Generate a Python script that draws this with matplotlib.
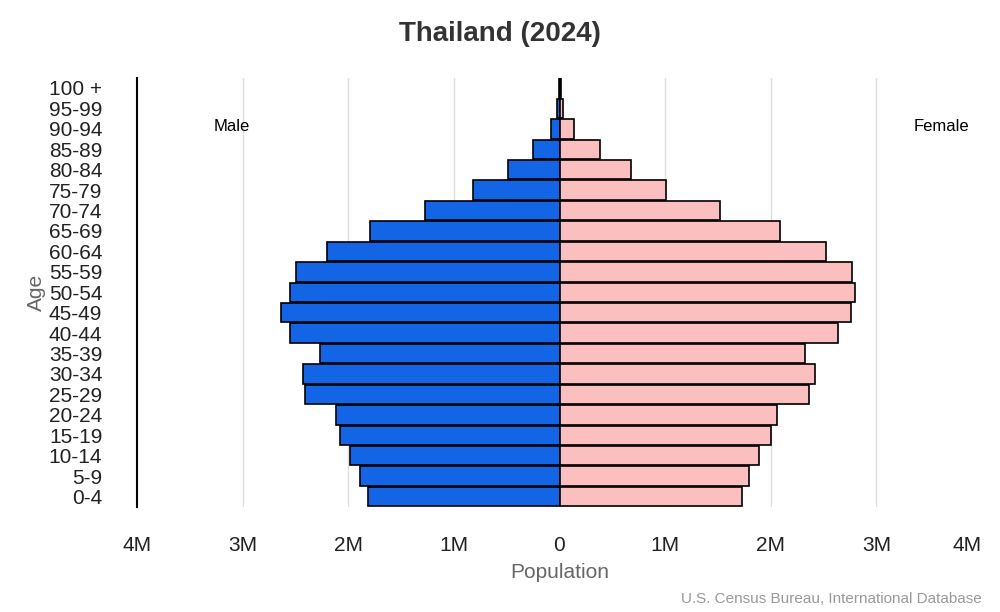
import matplotlib
matplotlib.use("Agg")
import matplotlib.pyplot as plt
import numpy as np

ages = ["0-4","5-9","10-14","15-19","20-24","25-29","30-34","35-39","40-44","45-49",
        "50-54","55-59","60-64","65-69","70-74","75-79","80-84","85-89","90-94","95-99","100 +"]
male = [1.81,1.89,1.98,2.08,2.12,2.41,2.43,2.27,2.55,2.64,2.55,2.49,2.20,1.79,1.27,0.82,0.49,0.25,0.085,0.02,0.005]
female = [1.73,1.79,1.89,2.00,2.06,2.36,2.42,2.32,2.64,2.76,2.80,2.77,2.52,2.09,1.52,1.01,0.68,0.38,0.14,0.03,0.01]
xticks = [-4,-3,-2,-1,0,1,2,3,4]
xticklabels = ["4M","3M","2M","1M","0","1M","2M","3M","4M"]

fig = plt.figure(figsize=(10,6.12), dpi=100)
ax = fig.add_axes([0.137,0.172,0.845,0.701])
y = np.arange(len(ages))
ax.barh(y, [-m for m in male], height=0.95, color="#1464e6", edgecolor="black", linewidth=1.2, zorder=3)
ax.barh(y, female, height=0.95, color="#fbbfbf", edgecolor="black", linewidth=1.2, zorder=3)
ax.set_xlim(-4,4)
ax.set_ylim(-0.5,20.5)
ax.set_yticks(y)
ax.set_yticklabels(ages, fontsize=15, family="Liberation Sans", color="#222")
ax.set_xticks(xticks)
ax.set_xticklabels(xticklabels, fontsize=15, family="Liberation Sans", color="#222")
ax.get_xticklabels()[-1].set_horizontalalignment("right")
ax.get_xticklabels()[-1].set_x(4.0)
ax.tick_params(axis="x", length=0, pad=21)
ax.tick_params(axis="y", length=0, pad=25)
for s in ["top","right","bottom"]:
    ax.spines[s].set_visible(False)
ax.spines["left"].set_linewidth(1.5)
for gx in [-3,-2,-1,1,2,3]:
    ax.axvline(gx, color="#dddddd", linewidth=1, zorder=0)
ax.set_xlabel("Population", fontsize=15, color="#666", family="Liberation Sans", labelpad=6)
ax.set_ylabel("Age", fontsize=15, color="#666", family="Liberation Sans", labelpad=2)
ax.text(-3.1, 18.1, "Male", fontsize=12, ha="center", va="center", family="Liberation Sans")
ax.text(3.62, 18.1, "Female", fontsize=12, ha="center", va="center", family="Liberation Sans")
fig.text(0.5, 0.945, "Thailand (2024)", ha="center", va="center", fontsize=20, fontweight="bold", color="#333", family="Liberation Sans")
fig.text(0.982, 0.022, "U.S. Census Bureau, International Database", ha="right", va="center", fontsize=11, color="#999", family="Liberation Sans")
fig.savefig("out.png", dpi=100)
